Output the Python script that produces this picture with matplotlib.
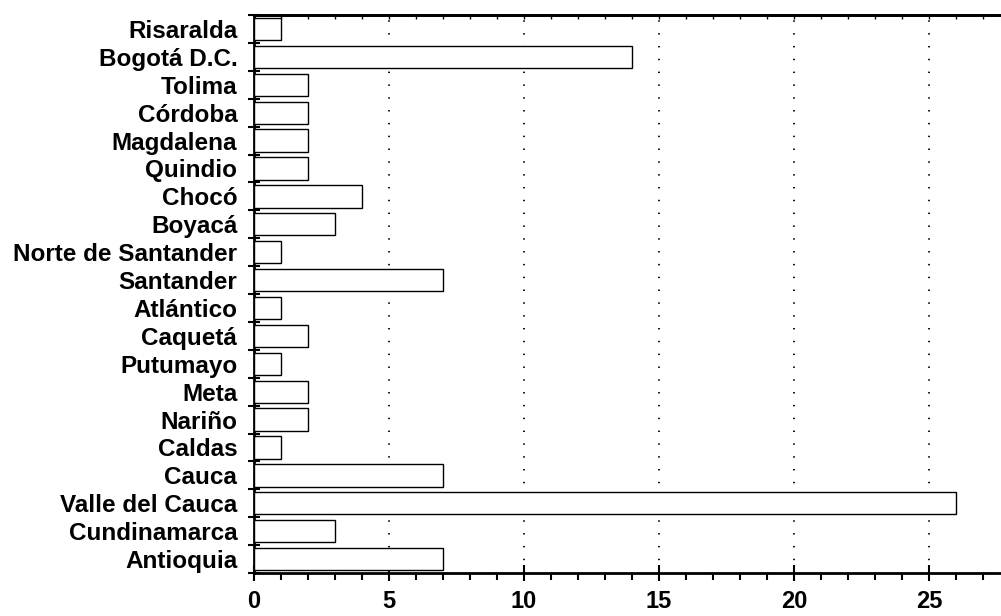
import matplotlib
matplotlib.use('Agg')

import numpy as np
from matplotlib import pyplot as plt
from matplotlib.ticker import MultipleLocator, FixedLocator

plt.rcParams['font.family'] = ['Liberation Sans', 'DejaVu Sans']
plt.rcParams['font.weight'] = 'bold'

# bottom to top
regions = ['Antioquia', 'Cundinamarca', 'Valle del Cauca', 'Cauca', 'Caldas',
           'Nariño', 'Meta', 'Putumayo', 'Caquetá', 'Atlántico', 'Santander',
           'Norte de Santander', 'Boyacá', 'Chocó', 'Quindio', 'Magdalena',
           'Córdoba', 'Tolima', 'Bogotá D.C.', 'Risaralda']
counts = [7, 3, 26, 7, 1, 2, 2, 1, 2, 1, 7, 1, 3, 4, 2, 2, 2, 2, 14, 1]
x_ticks = [0, 5, 10, 15, 20, 25]

fig = plt.figure(figsize=(10.01, 6.16), dpi=100)
ax = fig.add_axes([0.2537, 0.0698, 0.7463, 0.9058])

ypos = np.arange(len(regions))
ax.barh(ypos, counts, height=0.8, color='white', edgecolor='black', linewidth=1.0, zorder=3)

ax.set_xlim(0, 27.67)
ax.set_ylim(-0.5, len(regions) - 0.5)

for xv in x_ticks[1:]:
    ax.axvline(xv, color='black', linewidth=1.3, linestyle=(0, (0.8, 6.3)), zorder=1)

ax.xaxis.set_major_locator(FixedLocator(x_ticks))
ax.xaxis.set_minor_locator(MultipleLocator(1))
ax.tick_params(axis='x', which='major', bottom=True, top=False, direction='inout',
               length=12, width=1.5, labelsize=17, pad=6)
ax.tick_params(axis='x', which='minor', bottom=True, top=False, direction='out',
               length=5, width=1.5)
# small inward ticks on the top spine, one per unit
ax_top = ax.secondary_xaxis('top')
ax_top.xaxis.set_major_locator(MultipleLocator(1))
ax_top.tick_params(axis='x', direction='in', length=3, width=1, labeltop=False)
ax_top.spines['top'].set_linewidth(2)

ax.set_yticks(ypos)
ax.set_yticklabels(regions)
ax.yaxis.set_minor_locator(FixedLocator(np.arange(-0.5, len(regions), 1.0)))
ax.tick_params(axis='y', which='major', length=0, labelsize=17.5, pad=12)
ax.tick_params(axis='y', which='minor', direction='inout', length=8, width=1.5)

for lab in ax.get_xticklabels() + ax.get_yticklabels():
    lab.set_fontweight('bold')

ax.spines['right'].set_visible(False)
ax.spines['left'].set_linewidth(2)
ax.spines['bottom'].set_linewidth(2)
ax.spines['top'].set_linewidth(2)

plt.savefig('out.png', dpi=100)
